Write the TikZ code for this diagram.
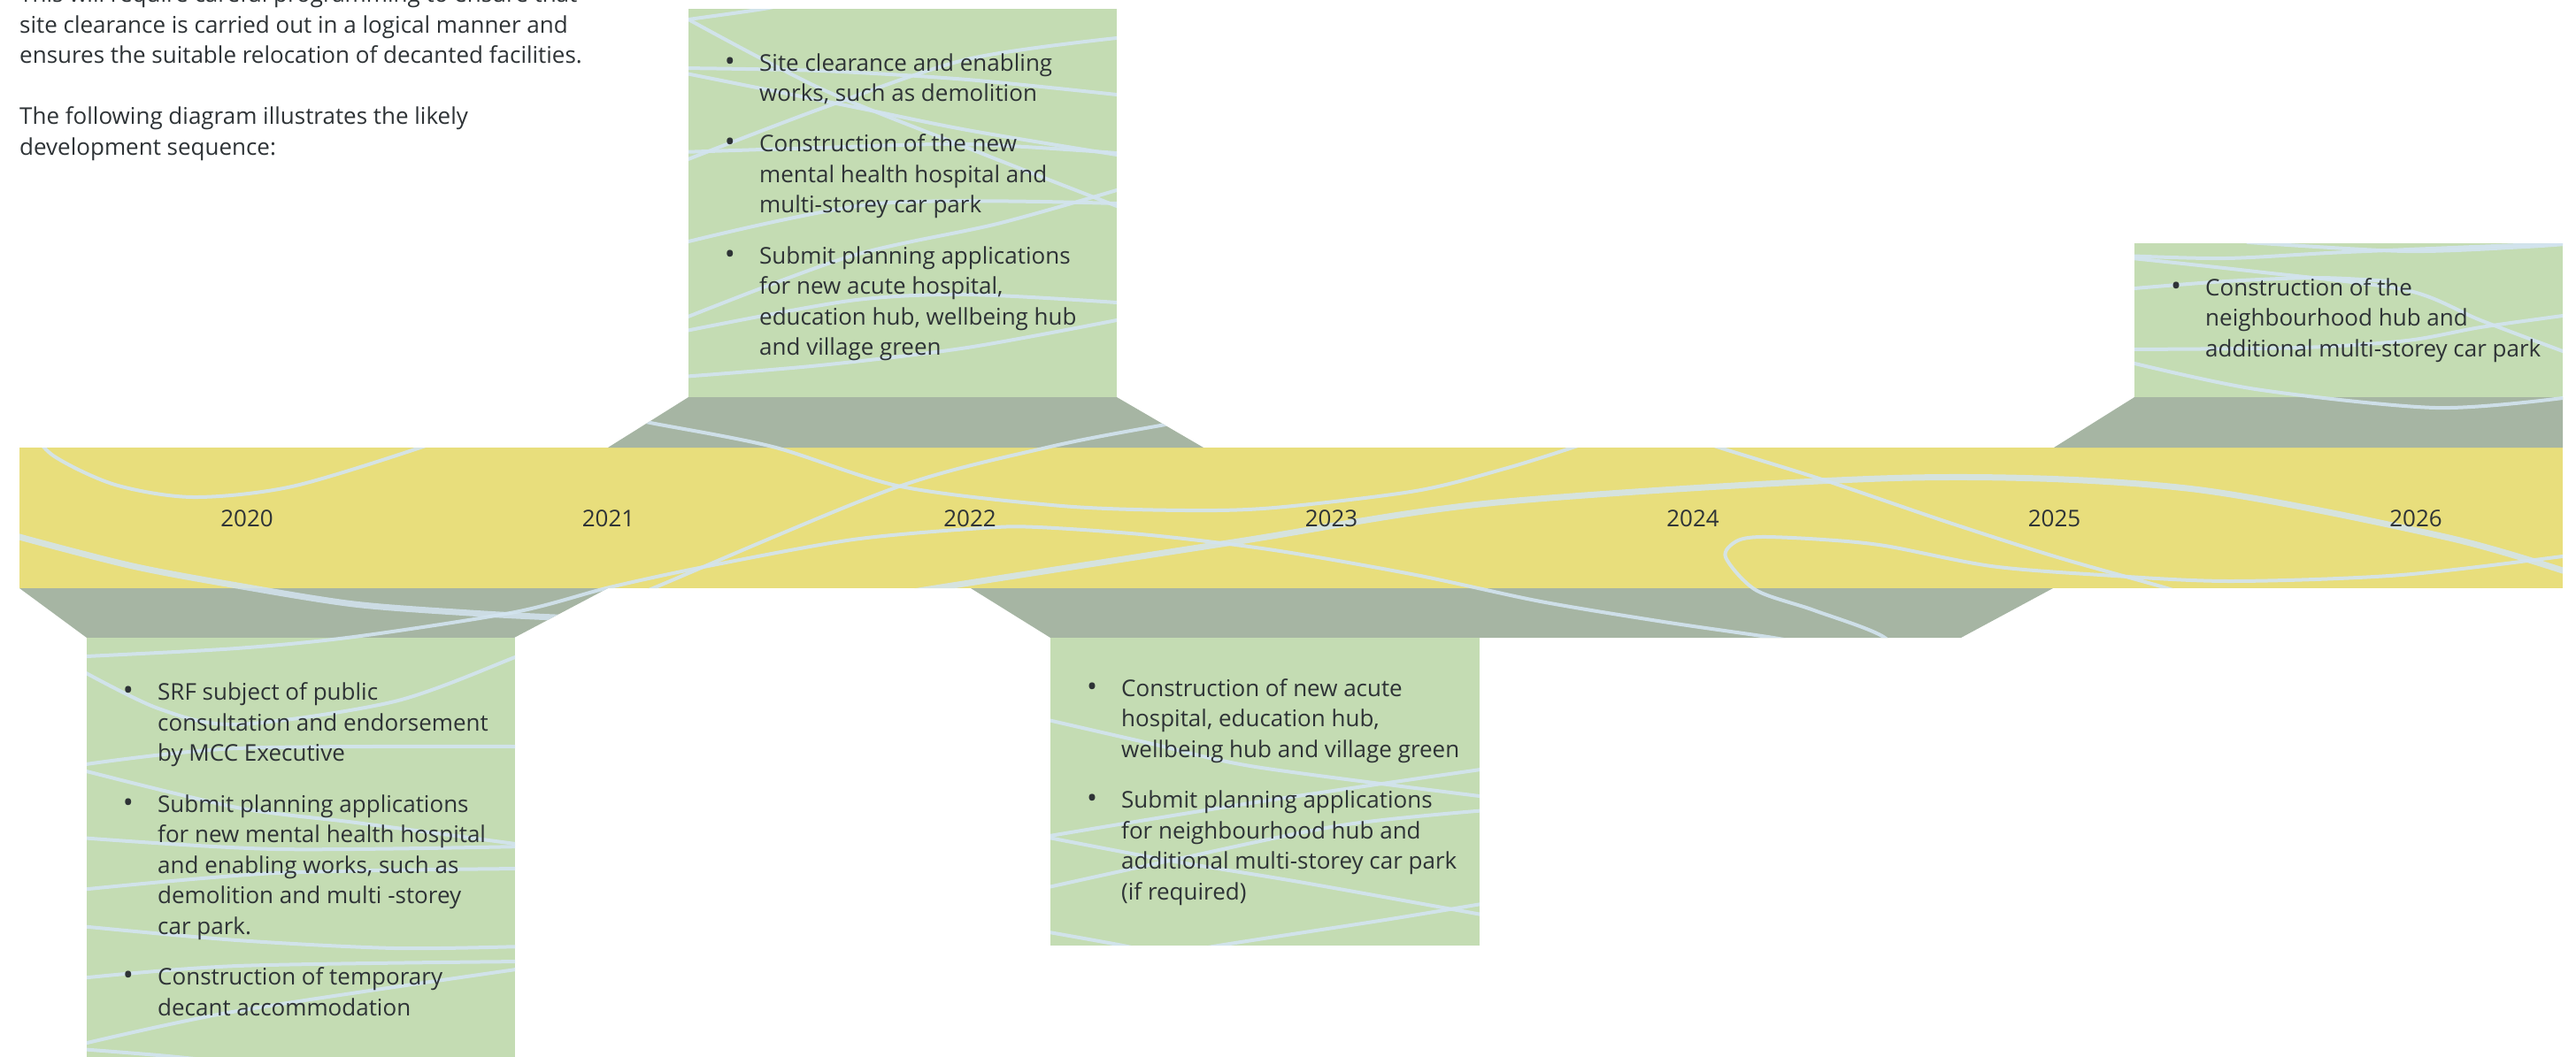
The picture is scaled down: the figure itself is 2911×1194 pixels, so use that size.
\documentclass[tikz,border=0pt]{standalone}
\usepackage{fontspec}
\setmainfont{Open Sans}
\definecolor{bandc}{HTML}{E8DE7C}
\definecolor{neckc}{HTML}{A6B5A3}
\definecolor{cardc}{HTML}{C4DCB3}
\definecolor{wavec}{HTML}{D3E4F0}
\definecolor{inkc}{HTML}{2E3336}
\tikzset{
  band/.style={fill=bandc},
  neck/.style={fill=neckc},
  card/.style={fill=cardc},
  wave/.style={draw=wavec, line width=4, line cap=round, opacity=0.9},
  thickwave/.style={draw=wavec, line width=7, line cap=round, opacity=0.85},
  txt/.style={anchor=base west, inner sep=0, text=inkc, font=\fontsize{26}{34.5}\selectfont},
  yr/.style={anchor=base, inner sep=0, text=inkc, font=\fontsize{26}{34.5}\selectfont},
  bul/.style={anchor=base, inner sep=0, text=inkc, font=\fontsize{32}{34.5}\selectfont},
}
% #1 name, #2 x, #3 baseline y, #4 lines
\newcommand\txtlines[4]{%
  \foreach \ln [count=\k] in {#4} {%
    \node[txt] (#1-\k) at (#2, {#3+34.5*(\k-1)}) {\ln};
  }%
}
% #1 name, #2 box left, #3 baseline y, #4 lines
\newcommand\bulpara[4]{%
  \node[bul] (#1-b) at (#2+47, #3) {•};
  \txtlines{#1}{#2+80}{#3}{#4}%
}
\begin{document}
\begin{tikzpicture}[x=1pt,y=-1pt]
\useasboundingbox (0,0) rectangle (2911,1194);

% ---- shapes
\fill[band] (22,506) rectangle (2896,665);
\fill[neck] (22,665) -- (687,665) -- (581,721) -- (98,721) -- cycle;
\fill[neck] (687,506) -- (778,449) -- (1262,449) -- (1360,506) -- cycle;
\fill[neck] (1097,665) -- (2320,665) -- (2216,721) -- (1187,721) -- cycle;
\fill[neck] (2321,506) -- (2412,449) -- (2896,449) -- (2896,506) -- cycle;
\fill[card] (98,721) rectangle (582,1200);
\fill[card] (778,10) rectangle (1262,449);
\fill[card] (1187,721) rectangle (1672,1069);
\fill[card] (2412,275) rectangle (2896,449);

% ---- decorative waves, clipped to the coloured shapes
\begin{scope}
\clip (22,506) rectangle (2896,665)
  (22,665) -- (687,665) -- (581,721) -- (98,721) -- cycle
  (687,506) -- (778,449) -- (1262,449) -- (1360,506) -- cycle
  (1097,665) -- (2320,665) -- (2216,721) -- (1187,721) -- cycle
  (2321,506) -- (2412,449) -- (2896,449) -- (2896,506) -- cycle
  (98,721) rectangle (582,1200)
  (778,10) rectangle (1262,449)
  (1187,721) rectangle (1672,1069)
  (2412,275) rectangle (2896,449);
% timeline
\draw[wave] plot[smooth] coordinates {(30,480) (60,515) (130,548) (218,562) (330,550) (478,505) (540,480)};
\draw[thickwave] plot[smooth] coordinates {(0,598) (22,607) (150,640) (268,662) (400,683) (531,693) (627,698) (700,700)};
\draw[wave] plot[smooth] coordinates {(60,744) (98,742) (267,733) (400,720) (582,692) (689,664) (800,640) (964,610) (1110,597) (1173,596) (1300,605) (1440,622) (1600,650) (1741,680) (1880,703) (2004,721) (2050,730)};
\draw[wave] plot[smooth] coordinates {(700,470) (735,478) (873,505) (1018,550) (1200,572) (1340,577) (1440,574) (1600,555) (1700,530) (1780,505) (1820,490)};
\draw[wave] plot[smooth] coordinates {(700,680) (738,665) (1010,552) (1187,505) (1317,480) (1380,470)};
\draw[thickwave] plot[smooth] coordinates {(1000,675) (1057,665) (1400,612) (1692,568) (2160,540) (2471,552) (2763,607) (2911,650)};
\draw[wave] plot[smooth] coordinates {(2150,760) (2130,721) (2050,690) (1984,667) (1950,630) (1962,612) (1990,607) (2060,610) (2130,617) (2250,640) (2374,650) (2520,657) (2714,650) (2911,627)};
\draw[wave] plot[smooth] coordinates {(1900,490) (1940,505) (2062,543) (2200,590) (2325,630) (2442,663) (2480,675)};
% top box
\draw[wave] plot[smooth] coordinates {(760,25) (778,22) (863,10) (900,2)};
\draw[wave] plot[smooth] coordinates {(778,22) (927,100) (1093,167) (1262,233) (1290,243)};
\draw[wave] plot[smooth] coordinates {(770,77) (927,80) (1093,90) (1262,107)};
\draw[wave] plot[smooth] coordinates {(770,82) (960,120) (1093,147) (1262,175)};
\draw[wave] plot[smooth] coordinates {(770,183) (927,123) (1093,67) (1262,43)};
\draw[wave] plot[smooth] coordinates {(770,172) (927,167) (1093,163) (1262,173)};
\draw[wave] plot[smooth] coordinates {(770,275) (993,230) (1262,230)};
\draw[wave] plot[smooth] coordinates {(770,361) (960,290) (1127,253) (1262,215)};
\draw[wave] plot[smooth] coordinates {(770,375) (960,340) (1093,333) (1262,342)};
\draw[wave] plot[smooth] coordinates {(770,426) (927,413) (1093,393) (1262,362)};
% right box
\draw[wave] plot[smooth] coordinates {(2400,289) (2515,292) (2651,285) (2896,275)};
\draw[wave] plot[smooth] coordinates {(2540,274) (2719,284) (2854,279) (2910,275)};
\draw[wave] plot[smooth] coordinates {(2400,291) (2549,307) (2719,328) (2803,362) (2896,397)};
\draw[wave] plot[smooth] coordinates {(2400,327) (2515,318) (2620,314) (2700,318)};
\draw[wave] plot[smooth] coordinates {(2400,395) (2600,393) (2720,385) (2803,370) (2896,357)};
\draw[wave] plot[smooth] coordinates {(2400,408) (2549,440) (2752,461) (2896,450)};
% bottom-left box
\draw[wave] plot[smooth] coordinates {(90,757) (179,801) (268,819) (446,793) (582,743) (600,735)};
\draw[wave] plot[smooth] coordinates {(90,865) (268,846) (582,844)};
\draw[wave] plot[smooth] coordinates {(90,870) (268,913) (402,930) (590,955)};
\draw[wave] plot[smooth] coordinates {(90,947) (312,960) (590,957)};
\draw[wave] plot[smooth] coordinates {(90,1006) (312,987) (590,982)};
\draw[wave] plot[smooth] coordinates {(90,1047) (268,1063) (446,1072) (590,1070)};
\draw[wave] plot[smooth] coordinates {(90,1106) (268,1092) (590,1087)};
\draw[wave] plot[smooth] coordinates {(90,1181) (268,1143) (590,1095)};
\draw[wave] plot[smooth] coordinates {(90,1186) (179,1193) (250,1200)};
% bottom-middle box
\draw[wave] plot[smooth] coordinates {(1180,813) (1298,840) (1419,867) (1680,901)};
\draw[wave] plot[smooth] coordinates {(1180,946) (1419,907) (1680,869)};
\draw[wave] plot[smooth] coordinates {(1180,946) (1322,973) (1468,997) (1680,1035)};
\draw[wave] plot[smooth] coordinates {(1180,1004) (1322,973) (1516,933) (1680,916)};
\draw[wave] plot[smooth] coordinates {(1180,1053) (1274,1070) (1300,1078)};
\draw[wave] plot[smooth] coordinates {(1340,1078) (1371,1070) (1565,1040) (1680,1021)};
\end{scope}

% ---- years
\foreach \yy [count=\i from 0] in {2020,2021,2022,2023,2024,2025,2026}
  \node[yr] (y\yy) at ({279+408.5*\i}, 595) {\yy};

% ---- intro text
\txtlines{intro}{22}{2.5}{{This will require careful programming to ensure that},{site clearance is carried out in a logical manner and},{ensures the suitable relocation of decanted facilities.}}
\txtlines{introb}{22}{140.5}{{The following diagram illustrates the likely},{development sequence:}}

% ---- top box (2021-2022)
\bulpara{ta}{778}{80}{{Site clearance and enabling},{works, such as demolition}}
\bulpara{tb}{778}{171.5}{{Construction of the new},{mental health hospital and},{multi-storey car park}}
\bulpara{tc}{778}{298}{{Submit planning applications},{for new acute hospital,},{education hub, wellbeing hub},{and village green}}

% ---- right box (2025-2026)
\bulpara{ra}{2412}{334}{{Construction of the},{neighbourhood hub and},{additional multi-storey car park}}

% ---- bottom-left box (2020-2021)
\bulpara{la}{98}{791.5}{{SRF subject of public},{consultation and endorsement},{by MCC Executive}}
\bulpara{lb}{98}{918}{{Submit planning applications},{for new mental health hospital},{and enabling works, such as},{demolition and multi -storey},{car park.}}
\bulpara{lc}{98}{1113.5}{{Construction of temporary},{decant accommodation}}

% ---- bottom-middle box (2022-2024)
\bulpara{ma}{1187}{787}{{Construction of new acute},{hospital, education hub,},{wellbeing hub and village green}}
\bulpara{mb}{1187}{913.5}{{Submit planning applications},{for neighbourhood hub and},{additional multi-storey car park},{(if required)}}
\end{tikzpicture}
\end{document}
